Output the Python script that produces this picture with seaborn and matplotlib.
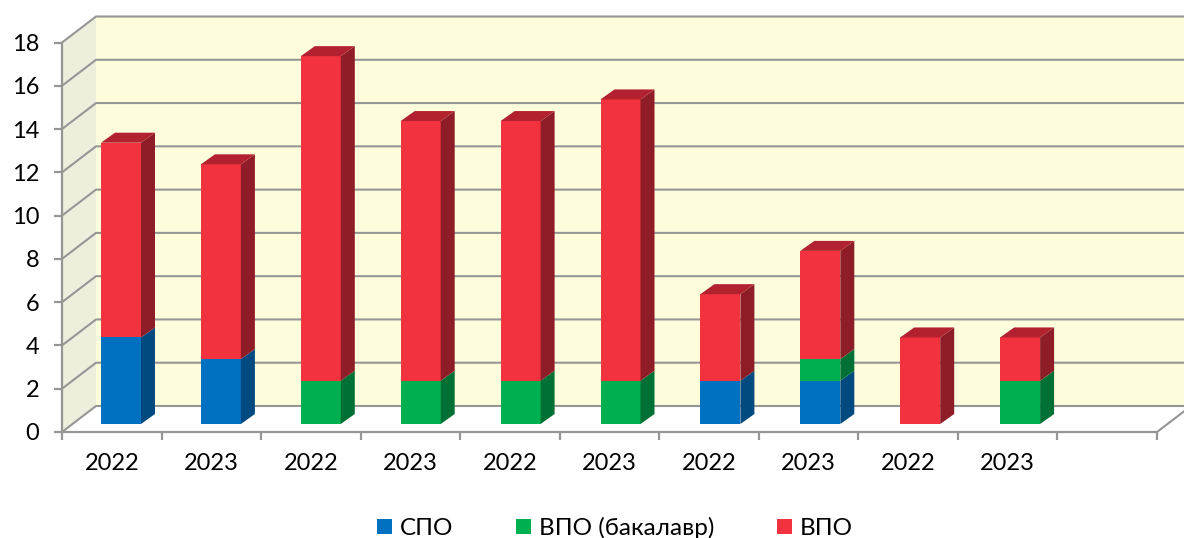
import numpy as np
import pandas as pd
import matplotlib
matplotlib.use("Agg")
import matplotlib.pyplot as plt
from matplotlib.patches import Patch
import seaborn as sns

# values
year_labels = ["2022", "2023"] * 5
spo = [4, 3, 0, 0, 0, 0, 2, 2, 0, 0]
bachelor = [0, 0, 2, 2, 2, 2, 0, 1, 0, 2]
vpo = [9, 9, 15, 12, 12, 13, 4, 5, 4, 2]
series_names = ["СПО", "ВПО (бакалавр)", "ВПО"]

colors = ["#0070C0", "#00B050", "#F2323F"]
side_colors = ["#004A80", "#007034", "#8F1D27"]
top_color = "#B2222E"
wall_back = "#FDFDDC"
wall_left = "#EEEEDC"
line_gray = "#969696"

W, H = 1184, 538
dpi = 100

sns.set_theme(style="white")
plt.rcParams["font.family"] = ["Lato", "Noto Sans", "DejaVu Sans"]


def box(left, top, right, bottom):
    # pixel box to figure fractions
    return [left / W, 1 - bottom / H, (right - left) / W, (bottom - top) / H]


fig = plt.figure(figsize=(W / dpi, H / dpi), dpi=dpi)

# front plane of the chart box, holds the real axes
ax = fig.add_axes(box(62, 42.5, 1157, 432))
ax.patch.set_visible(False)
n_slots = 11
ax.set_xlim(-0.5, n_slots - 0.5)
ax.set_ylim(0, 18)

# depth of the box in data units
depth_x = 34 / (1095 / n_slots)
depth_y = 26 / (389.5 / 18)
x0, x1 = -0.5, n_slots - 0.5

ax.fill([x0, x0 + depth_x, x0 + depth_x, x0], [0, depth_y, 18 + depth_y, 18],
        color=wall_left, lw=0, clip_on=False, zorder=0)
ax.fill([x0 + depth_x, x1 + depth_x, x1 + depth_x, x0 + depth_x],
        [depth_y, depth_y, 18 + depth_y, 18 + depth_y],
        color=wall_back, lw=0, clip_on=False, zorder=0)

for v in range(0, 19, 2):
    ax.plot([x0, x0 + depth_x, x1 + depth_x], [v, v + depth_y, v + depth_y],
            color=line_gray, lw=1.5, clip_on=False, zorder=1)
ax.plot([x1, x1 + depth_x], [0, depth_y], color=line_gray, lw=1.5, clip_on=False, zorder=1)

for name in ["top", "right"]:
    ax.spines[name].set_visible(False)
for name in ["left", "bottom"]:
    ax.spines[name].set_color(line_gray)
    ax.spines[name].set_linewidth(1.6)

ax.set_yticks(range(0, 19, 2))
ax.set_xticks(np.arange(n_slots + 1) - 0.5)
ax.set_xticklabels([])
ax.set_xticks(np.arange(len(year_labels)), minor=True)
ax.set_xticklabels(year_labels, minor=True)
ax.tick_params(axis="y", which="major", left=True, length=5.5, width=1.6, color=line_gray,
               labelsize=17, pad=11, labelcolor="black")
ax.tick_params(axis="x", which="major", bottom=True, length=6, width=1.6, color=line_gray)
ax.tick_params(axis="x", which="minor", bottom=False, length=0, labelsize=17, pad=15,
               labelcolor="black")

# bars stand a little behind the front plane, so they get their own shifted axes
slot_px = 99.9
bar_left = 121 - slot_px / 2
bar_ax = fig.add_axes(box(bar_left, 42.5 - 8, bar_left + slot_px * n_slots, 432 - 8))
bar_ax.patch.set_visible(False)

df = pd.DataFrame({"slot": np.arange(len(spo)), "spo": spo, "bachelor": bachelor, "vpo": vpo})
df["c0"] = df["spo"]
df["c1"] = df["c0"] + df["bachelor"]
df["c2"] = df["c1"] + df["vpo"]

bar_w = 40 / slot_px
for col, color in zip(["c2", "c1", "c0"], colors[::-1]):
    sns.barplot(data=df, x="slot", y=col, native_scale=True, width=bar_w, color=color,
                saturation=1, linewidth=0, ax=bar_ax, zorder=3)

bar_ax.set_xlim(-0.5, n_slots - 0.5)
bar_ax.set_ylim(0, 18)
bar_ax.axis("off")

# side and top faces of each bar
bar_dx = 14 / slot_px
bar_dy = 10 / (389.5 / 18)
for _, row in df.iterrows():
    right = row["slot"] + bar_w / 2
    left = row["slot"] - bar_w / 2
    lows = [0, row["c0"], row["c1"]]
    highs = [row["c0"], row["c1"], row["c2"]]
    for low, high, side in zip(lows, highs, side_colors):
        if high > low:
            bar_ax.fill([right, right + bar_dx, right + bar_dx, right],
                        [low, low + bar_dy, high + bar_dy, high],
                        color=side, lw=0, clip_on=False, zorder=3)
    top = row["c2"]
    bar_ax.fill([left, right, right + bar_dx, left + bar_dx],
                [top, top, top + bar_dy, top + bar_dy],
                color=top_color, lw=0, clip_on=False, zorder=3)

handles = [Patch(facecolor=c, edgecolor="none") for c in colors]
fig.legend(handles, series_names, loc="center", bbox_to_anchor=(615 / W, 1 - 528 / H),
           ncol=3, frameon=False, fontsize=17.5, handlelength=0.62, handleheight=0.62,
           handletextpad=0.3, columnspacing=2.6, borderpad=0, labelcolor="black")

fig.savefig("out.png", dpi=dpi)
